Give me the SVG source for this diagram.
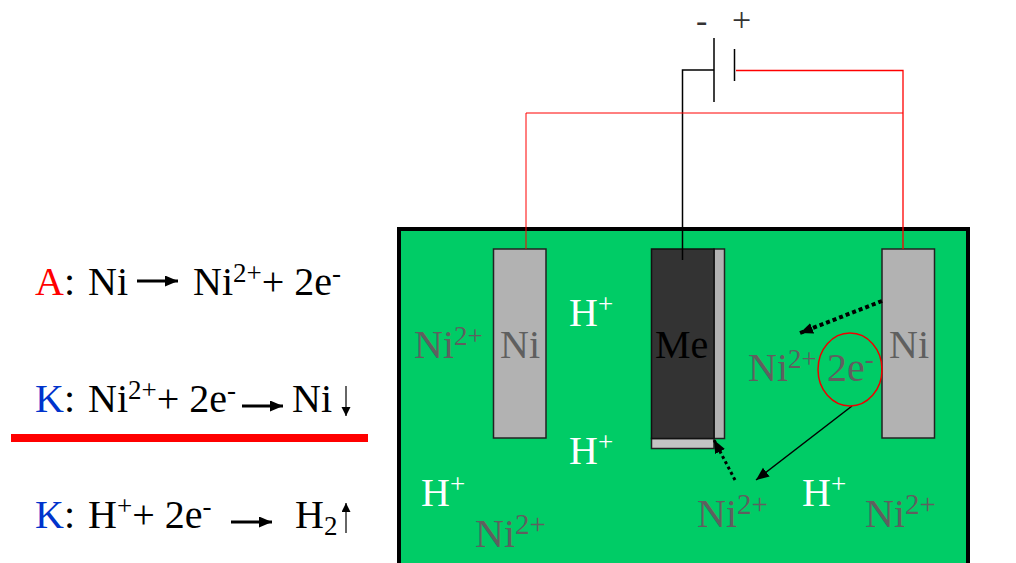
<svg xmlns="http://www.w3.org/2000/svg" width="1016" height="563" viewBox="0 0 1016 563">
<style>
text{font-family:"Liberation Serif",serif;font-size:40px;fill:#000}
.g{fill:#5f5f5f}.w{fill:#fff}.r{fill:#f00}.b{fill:#0033cc}
.s{font-size:27px}
.t{font-size:34px;fill:#333}
.el{fill:#b2b2b2;stroke:#222;stroke-width:1.5}
.k{fill:none;stroke:#000;stroke-width:1.5}
.rd{fill:none;stroke:#f00;stroke-width:1}
.h{fill:none;stroke:#000;stroke-width:3;marker-end:url(#ab)}
.v{fill:none;stroke:#333;stroke-width:1.5;marker-end:url(#a)}
</style>
<defs>
<marker id="a" markerWidth="9" markerHeight="10" refX="9" refY="4.500" orient="auto" markerUnits="userSpaceOnUse"><path d="M0 0L9 4.500L0 9z"/></marker>
<marker id="ab" markerWidth="14" markerHeight="12" refX="13" refY="5.500" orient="auto" markerUnits="userSpaceOnUse"><path d="M0 0L13 5.500L0 11z"/></marker>
</defs>
<rect width="1016" height="563" fill="#fff"/>
<g id="bath"><path d="M399 563V229H968V563" fill="#00cc66" stroke="#000" stroke-width="4"/></g>
<g id="electrode-left"><rect class="el" x="493.500" y="249" width="52.500" height="189"/><text class="g" x="500" y="358">Ni</text></g>
<g id="electrode-me">
<rect class="el" x="714" y="249" width="10.500" height="189.500"/>
<rect x="651.500" y="438.500" width="62.500" height="10" fill="#c4c4c4" stroke="#222" stroke-width="1.500"/>
<rect x="651.500" y="249" width="62.500" height="189.500" fill="#333" stroke="#111" stroke-width="1.500"/>
<text x="655" y="358" fill="#111">Me</text></g>
<g id="electrode-right"><rect class="el" x="882" y="249" width="52.500" height="189"/><text class="g" x="889" y="358">Ni</text></g>
<g id="battery">
<path class="k" d="M714 38V102M734.500 49V81"/>
<text class="t" x="696" y="32">-</text>
<text class="t" x="732" y="31">+</text>
</g>
<g id="connectors">
<path class="k" d="M714 70H682.500V260"/>
<path class="rd" d="M736 70.500H903V249" style="stroke-width:1.300"/>
<path class="rd" d="M526 249V113H903"/>
<path d="M882 301L800 333" fill="none" stroke="#000" stroke-width="4" stroke-dasharray="4 3" marker-end="url(#ab)"/>
<path d="M852 406L756 480" fill="none" stroke="#000" stroke-width="1.500" marker-end="url(#ab)"/>
<path d="M735 480L714 440" fill="none" stroke="#000" stroke-width="3" stroke-dasharray="3 3" marker-end="url(#ab)"/>
<ellipse cx="850" cy="369.500" rx="32" ry="36.500" fill="none" stroke="#e00" stroke-width="1.500"/>
</g>
<g id="labels">
<text class="w" x="569" y="326">H<tspan class="s" dy="-13">+</tspan></text>
<text class="w" x="569" y="464">H<tspan class="s" dy="-13">+</tspan></text>
<text class="w" x="421" y="506">H<tspan class="s" dy="-13">+</tspan></text>
<text class="w" x="802" y="506">H<tspan class="s" dy="-13">+</tspan></text>
<text class="g" x="414" y="358">Ni<tspan class="s" dy="-13">2+</tspan></text>
<text class="g" x="748" y="381">Ni<tspan class="s" dy="-13">2+</tspan></text>
<text class="g" x="827" y="381">2e<tspan class="s" dy="-13">-</tspan></text>
<text class="g" x="697" y="527">Ni<tspan class="s" dy="-13" style="font-size:29px">2+</tspan></text>
<text class="g" x="865" y="527">Ni<tspan class="s" dy="-13" style="font-size:29px">2+</tspan></text>
<text class="g" x="475" y="547">Ni<tspan class="s" dy="-13" style="font-size:29px">2+</tspan></text>
</g>
<g id="equations">
<text x="35" y="295"><tspan class="r">A</tspan>:</text>
<text x="88" y="295">Ni</text>
<text x="193" y="295">Ni<tspan class="s" dy="-13">2+</tspan><tspan dy="13">+ 2e</tspan><tspan class="s" dy="-13">-</tspan></text>
<path class="h" d="M137 281H178"/>
<text x="35" y="412"><tspan class="b">K</tspan>:</text>
<text x="88" y="412">Ni<tspan class="s" dy="-13">2+</tspan><tspan dy="13">+ 2e</tspan><tspan class="s" dy="-13">-</tspan></text>
<text x="292" y="412">Ni</text>
<path class="h" d="M242 406H283"/>
<path class="v" d="M346 386V416"/>
<rect x="11" y="434" width="357" height="8" fill="#f00"/>
<text x="35" y="528"><tspan class="b">K</tspan>:</text>
<text x="88" y="528">H<tspan class="s" dy="-13">+</tspan><tspan dy="13">+ 2e</tspan><tspan class="s" dy="-13">-</tspan></text>
<text x="295" y="528">H<tspan class="s" dy="7">2</tspan></text>
<path class="h" d="M231 522H272"/>
<path class="v" d="M346 533V503"/>
</g>
</svg>
